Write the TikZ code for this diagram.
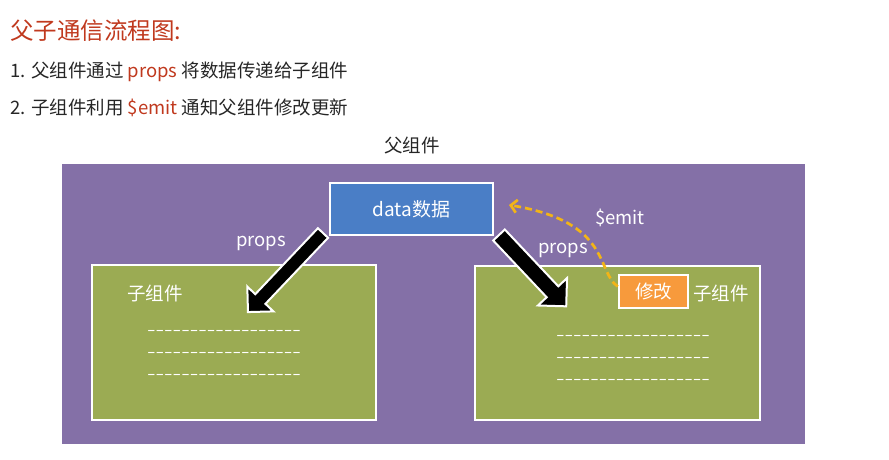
\documentclass[tikz,border=0pt]{standalone}
\usepackage{fontspec}
\setmainfont{Noto Sans CJK SC}
\usetikzlibrary{arrows.meta,shadows}
\definecolor{titlered}{HTML}{C0391E}
\definecolor{parentpurple}{HTML}{8470A7}
\definecolor{childgreen}{HTML}{9BAB53}
\definecolor{datablue}{HTML}{4A7EC6}
\definecolor{modorange}{HTML}{F79A3C}
\definecolor{emitgold}{HTML}{F2B417}
\definecolor{bodytext}{HTML}{262626}
\tikzset{
  fs/.style={font=\fontsize{#1}{#1}\selectfont},
  panel/.style={draw=white, line width=2.4pt, drop shadow={opacity=0.3, shadow xshift=0.8pt, shadow yshift=-0.8pt}},
  lbl/.style={text=white, inner sep=0pt},
  dashrow/.style={text=white, inner sep=0pt, fs=16},
  blockarrow/.style={fill=black, draw=white, line width=2pt, line join=miter},
  emitarrow/.style={draw=emitgold, line width=2.7pt, dash pattern=on 7pt off 4pt, -{Straight Barb[length=6pt,width=13pt,line width=2.7pt]}}
}
\newcommand{\dashtext}{\scalebox{1.54}[1]{-{}-{}-{}-{}-{}-{}-{}-{}-{}-{}-{}-{}-{}-{}-{}-{}-{}-}}
\begin{document}
\begin{tikzpicture}[x=1pt,y=-1pt]
\useasboundingbox (0,0) rectangle (889,459);
% header text
\node[anchor=west, fs=23.5, text=titlered, inner sep=0pt] (title) at (10,31) {父子通信流程图:};
\node[anchor=west, fs=18.5, text=bodytext, inner sep=0pt] (line1) at (10,72) {1. 父组件通过 {\color{titlered}props} 将数据传递给子组件};
\node[anchor=west, fs=18.5, text=bodytext, inner sep=0pt] (line2) at (10,108) {2. 子组件利用 {\color{titlered}\$emit} 通知父组件修改更新};
\node[fs=18.5, text=bodytext, inner sep=0pt] (parentlbl) at (412,145) {父组件};
% parent panel
\path[panel, fill=parentpurple] (61,163) rectangle (806,445);
\node[panel, fill=childgreen, minimum width=284pt, minimum height=155pt, inner sep=0pt] (childL) at (234,342.5) {};
\node[panel, fill=childgreen, minimum width=285pt, minimum height=154pt, inner sep=0pt] (childR) at (617.5,343) {};
\node[panel, fill=datablue, minimum width=163pt, minimum height=52pt, inner sep=0pt, text=white, fs=19] (data) at (411.5,209) {data数据};
\node[panel, fill=modorange, minimum width=69pt, minimum height=33pt, inner sep=0pt, text=white, fs=18.5] (mod) at (653.5,291.5) {修改};
% labels
\node[lbl, fs=18.5] (childLlbl) at (155,293) {子组件};
\node[lbl, fs=18.5] (childRlbl) at (721,293) {子组件};
\node[lbl, fs=18.5] (propsL) at (261,243) {props};
\node[lbl, fs=18.5] (propsR) at (563,250) {props};
\node[lbl, fs=18.5] (emit) at (620,218) {\$emit};
\node[dashrow] (dl1) at (224,333) {\dashtext};
\node[dashrow] (dl2) at (224,355) {\dashtext};
\node[dashrow] (dl3) at (224,377) {\dashtext};
\node[dashrow] (dr1) at (633,338) {\dashtext};
\node[dashrow] (dr2) at (633,360) {\dashtext};
\node[dashrow] (dr3) at (633,382) {\dashtext};
% block arrows
\begin{scope}[shift={(323,233)}, rotate=226.5]
  \draw[blockarrow] (0,-7) -- (91,-7) -- (91,-18) -- (109,0) -- (91,18) -- (91,7) -- (0,7) -- cycle;
\end{scope}
\begin{scope}[shift={(499,235)}, rotate=-46.7]
  \draw[blockarrow] (0,-8) -- (78,-8) -- (78,-20) -- (98,0) -- (78,20) -- (78,8) -- (0,8) -- cycle;
\end{scope}
% emit arrow
\coordinate (emitend) at (509,205);
\draw[emitarrow] ([yshift=5pt]mod.west) .. controls (596,272) and (612,222) .. (emitend);
\end{tikzpicture}
\end{document}
